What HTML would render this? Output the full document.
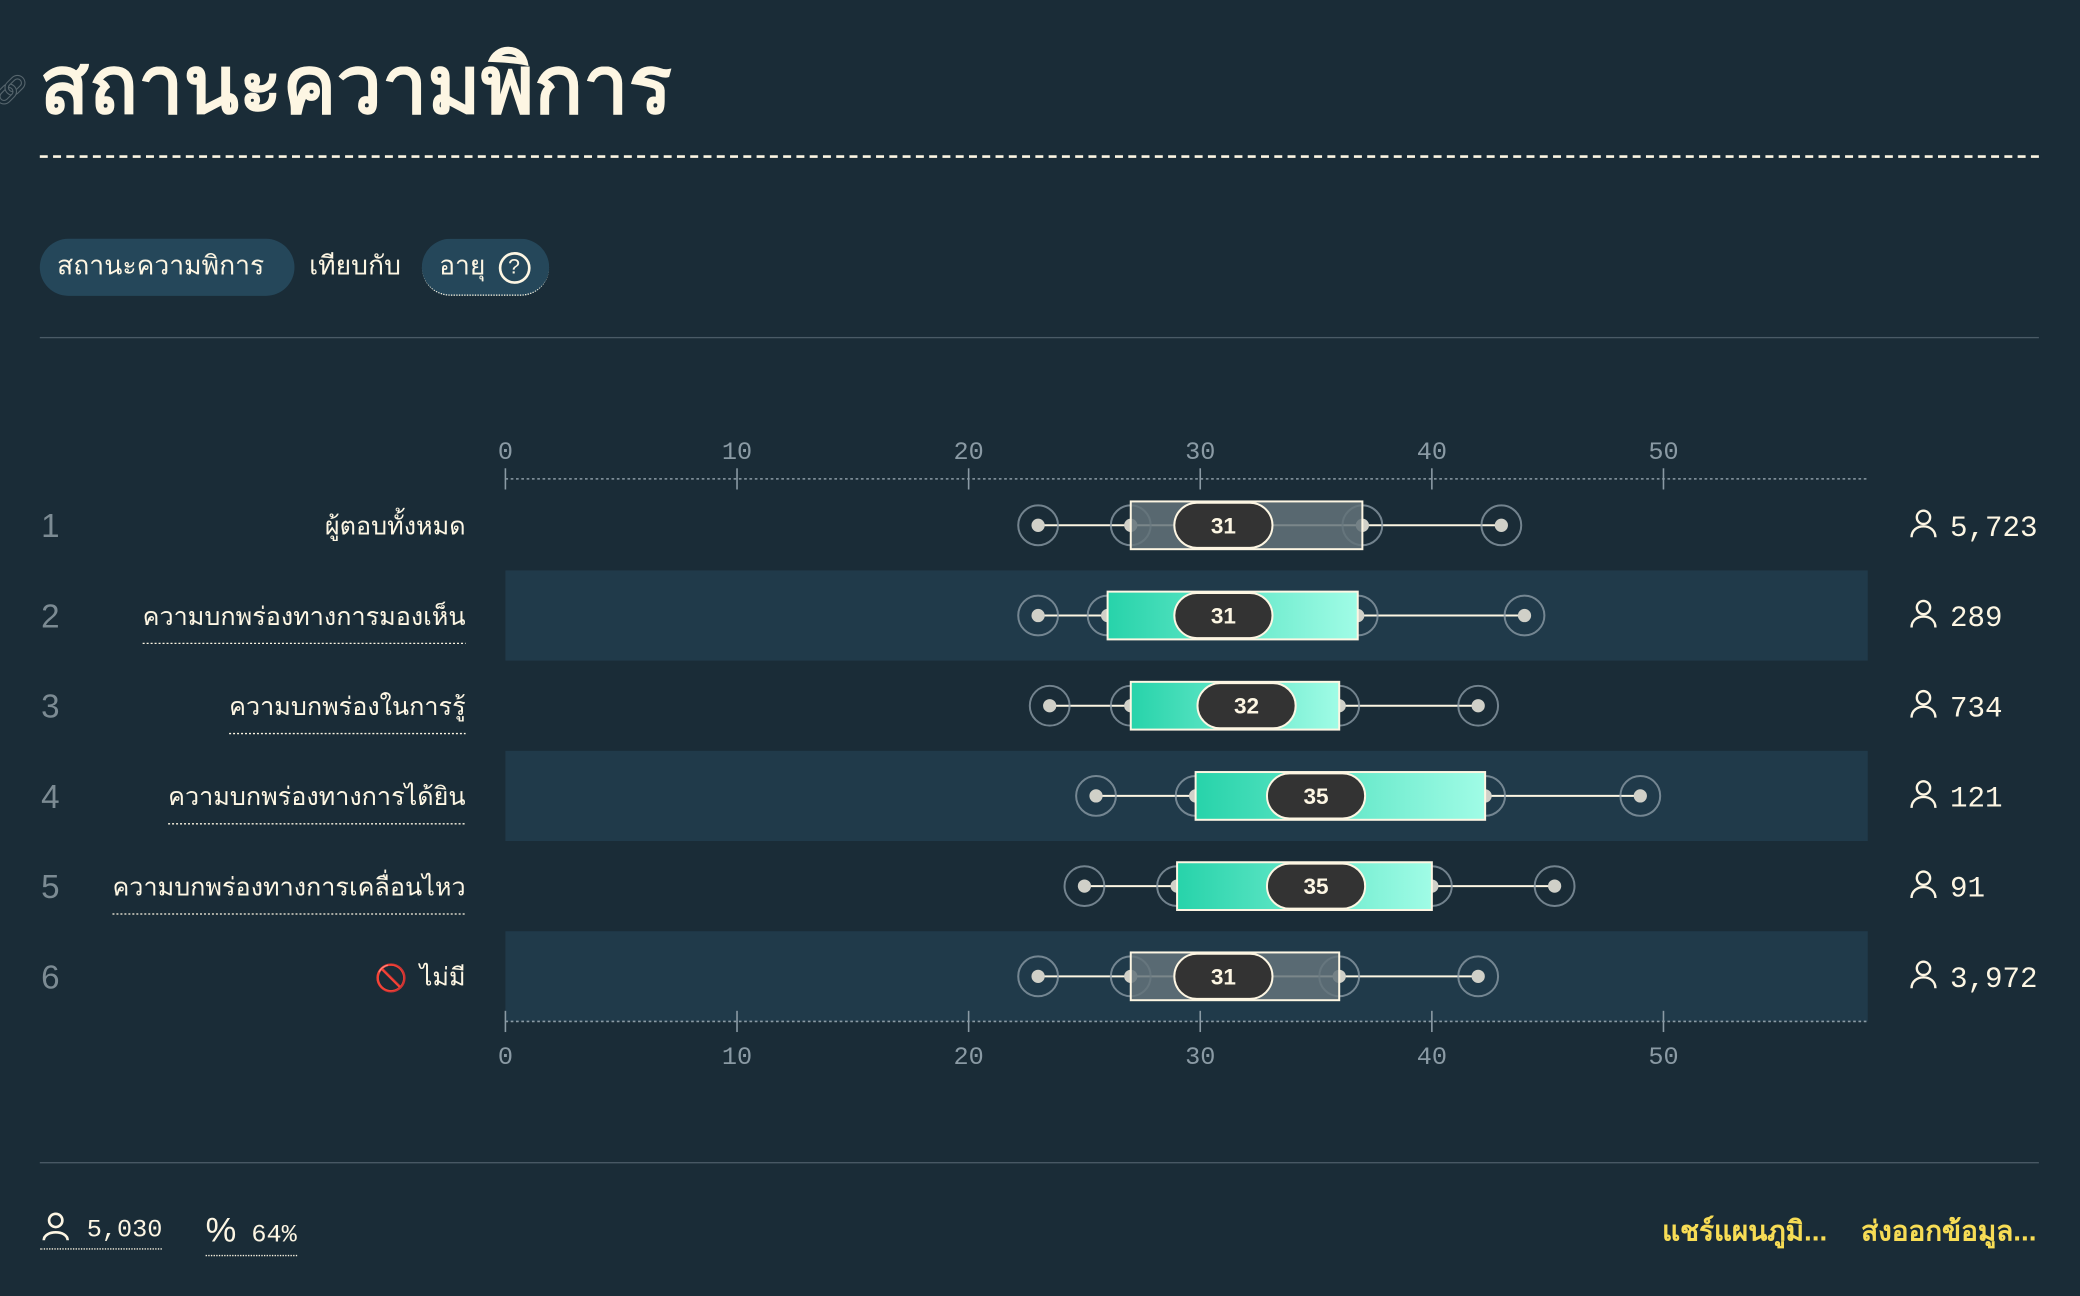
<!DOCTYPE html>
<html><head><meta charset="utf-8">
<style>
html,body{margin:0;padding:0;background:#1a2c37;}
body{width:2080px;height:1296px;overflow:hidden;}
#wrap{position:absolute;left:0;top:0;width:1568px;height:977px;transform:scale(1.32653);transform-origin:0 0;font-family:"Liberation Sans",sans-serif;color:#fdf6e3;}
.abs{position:absolute;}
.pill{position:absolute;top:180px;height:43px;border-radius:22px;background:#25475a;font-size:20px;line-height:43px;padding:0 13px;box-sizing:border-box;}
</style></head><body>
<div id="wrap">
<div class="abs" style="left:-6px;top:55px;font-size:22px;color:#56656d;">🔗︎</div>
<div class="abs" style="left:30px;top:22px;font-size:61px;font-weight:bold;line-height:84px;">สถานะความพิการ</div>
<div class="abs" style="left:30px;top:117px;width:1507px;border-top:2px dashed #fdf6e3;"></div>
<div class="pill" style="left:30px;width:192px;">สถานะความพิการ</div>
<div class="abs" style="left:233px;top:180px;font-size:20px;line-height:43px;">เทียบกับ</div>
<div class="pill" style="left:318px;width:96px;border-bottom:1px dotted #fdf6e3;">อายุ <span style="display:inline-block;width:20px;height:20px;border:2px solid #fdf6e3;border-radius:50%;text-align:center;line-height:20px;font-size:16px;vertical-align:middle;margin-left:4px;">?</span></div>
<div class="abs" style="left:30px;top:254px;width:1507px;border-top:1px solid #4a5b66;"></div>
<svg class="abs" id="chart" style="left:0;top:0" width="1568" height="977"></svg>
<div class="abs" style="left:30px;top:876px;width:1507px;border-top:1px solid #4a5b66;"></div>
<div class="abs" style="left:30px;top:912px;font-family:'Liberation Mono',monospace;font-size:19px;border-bottom:1px dotted #fdf6e3;padding-bottom:3px;"><svg width="24" height="24" viewBox="0 0 24 24" style="vertical-align:-4px"><circle cx="12" cy="8" r="5" fill="none" stroke="#fdf6e3" stroke-width="2"/><path d="M3 23 C3 15 21 15 21 23" fill="none" stroke="#fdf6e3" stroke-width="2"/></svg> 5,030</div>
<div class="abs" style="left:155px;top:912px;font-family:'Liberation Mono',monospace;font-size:19px;border-bottom:1px dotted #fdf6e3;padding-bottom:3px;"><span style="font-size:26px;font-family:'Liberation Sans',sans-serif">%</span> 64%</div>
<div class="abs" style="left:1253px;top:912px;font-size:21px;font-weight:bold;color:#f7dc55;">แชร์แผนภูมิ...</div>
<div class="abs" style="left:1403px;top:912px;font-size:21px;font-weight:bold;color:#f7dc55;">ส่งออกข้อมูล...</div>
</div>
<script>
const labels=["ผู้ตอบทั้งหมด","ความบกพร่องทางการมองเห็น","ความบกพร่องในการรู้","ความบกพร่องทางการได้ยิน","ความบกพร่องทางการเคลื่อนไหว","ไม่มี"];
const lows=[23,23,23.5,25.5,25,23];
const q1s=[27,26,27,29.8,29,27];
const medians=[31,31,32,35,35,31];
const q3s=[37,36.8,36,42.3,40,36];
const highs=[43,44,42,49,45.3,42];
const counts=["5,723","289","734","121","91","3,972"];
const ticks=[0,10,20,30,40,50];
const NS="http://www.w3.org/2000/svg";
const svg=document.getElementById('chart');
const x=v=>381+v*17.46;
const rowY=i=>396+i*68;
function mk(t,a,p){const e=document.createElementNS(NS,t);for(const k in a)e.setAttribute(k,a[k]);(p||svg).appendChild(e);return e;}
const defs=mk('defs',{});
const g=mk('linearGradient',{id:'grad',x1:'0',x2:'1',y1:'0',y2:'0'},defs);
mk('stop',{offset:'0','stop-color':'#27d3aa'},g);mk('stop',{offset:'1','stop-color':'#a0fce6'},g);
labels.forEach((l,i)=>{if(i%2==1){const r=mk('rect',{x:381,y:rowY(i)-34,width:1027,height:68,fill:'#203a4a'});

}});
[361,770].forEach((ay,ai)=>{
 const ln=mk('line',{x1:381,x2:1408,y1:ay,y2:ay,stroke:'#8a9aa4','stroke-width':1.2,'stroke-dasharray':'2 2'});
 
 
 ticks.forEach(t=>{
  mk('line',{x1:x(t),x2:x(t),y1:ay-8,y2:ay+8,stroke:'#8a9aa4','stroke-width':1.2});
  const tx=mk('text',{x:x(t),y:ai?802:346,'text-anchor':'middle','font-family':'Liberation Mono, monospace','font-size':19,fill:'#8a9aa4'});
  tx.textContent=t;
  
  
 });
});
labels.forEach((l,i)=>{
 const y=rowY(i);
 const n=mk('text',{x:38,y:y+9,'text-anchor':'middle','font-size':25,fill:'#7c8b93','font-family':'Liberation Sans, sans-serif'});n.textContent=i+1;
 
 
 const lt=mk('text',{x:351,y:y+7,'text-anchor':'end','font-size':19,fill:'#fdf6e3','font-family':'Liberation Sans, sans-serif'});lt.textContent=l;
 
 
 if(i>0&&i<5){const w=lt.getComputedTextLength();mk('line',{x1:351-w,x2:351,y1:y+21,y2:y+21,stroke:'#fdf6e3','stroke-width':1,'stroke-dasharray':'1.5 1.5'});}
 if(i==5){const ic=mk('text',{x:295,y:y+8,'text-anchor':'middle','font-size':20});ic.textContent='🚫';}
 const wl=mk('line',{x1:x(lows[i]),x2:x(highs[i]),y1:y,y2:y,stroke:'#fdf6e3','stroke-width':1.5});
 
 
 [lows[i],q1s[i],q3s[i],highs[i]].forEach(v=>{
  mk('circle',{cx:x(v),cy:y,r:15,fill:'none',stroke:'#8a9aa4','stroke-width':1.5,opacity:0.8});
  mk('circle',{cx:x(v),cy:y,r:5,fill:'#d0d0c8'});
 });
 const gray=(i==0||i==5);
 const b=mk('rect',{x:x(q1s[i]),y:y-18,width:x(q3s[i])-x(q1s[i]),height:36,fill:gray?'rgba(100,115,122,0.85)':'url(#grad)',stroke:'#fdf6e3','stroke-width':1.5});
 
 
 const mp=mk('rect',{x:x(medians[i])-37,y:y-17,width:74,height:34,rx:17,fill:'#333333',stroke:'#fdf6e3','stroke-width':1.5});
 
 
 const mt=mk('text',{x:x(medians[i]),y:y+6,'text-anchor':'middle','font-size':17,'font-weight':'bold',fill:'#fdf6e3','font-family':'Liberation Sans, sans-serif'});mt.textContent=medians[i];
 
 
 mk('circle',{cx:1450,cy:y-6,r:5,fill:'none',stroke:'#fdf6e3','stroke-width':1.8});
 mk('path',{d:`M1441 ${y+9} C1441 ${y-2} 1459 ${y-2} 1459 ${y+9}`,fill:'none',stroke:'#fdf6e3','stroke-width':1.8});
 const ct=mk('text',{x:1470,y:y+8,'font-size':22,fill:'#fdf6e3','font-family':'Liberation Mono, monospace'});ct.textContent=counts[i];
 
 
});
</script>
</body></html>
